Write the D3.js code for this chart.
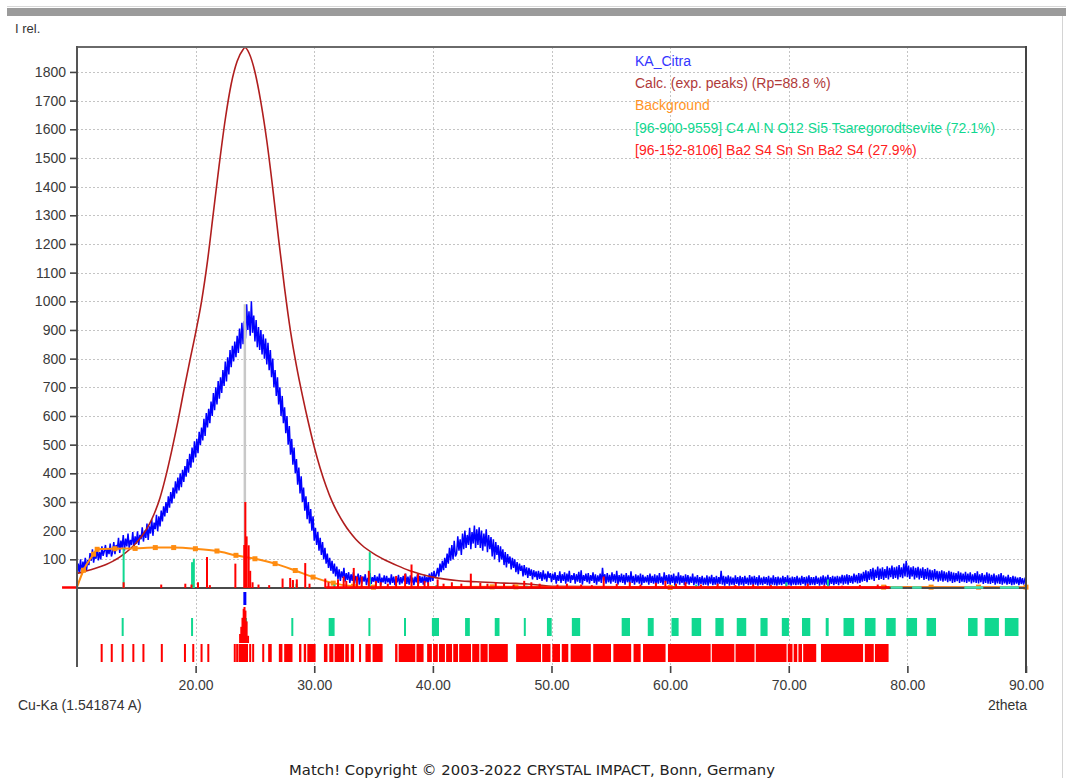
<!DOCTYPE html>
<meta charset="utf-8">
<style>
body { margin: 0; background: #fff; }
svg { display: block; font-family: "Liberation Sans", Arial, sans-serif; }
.grid line { stroke: #c4c4c4; stroke-width: 1; stroke-dasharray: 2,2; }
.axis text { font-size: 14px; fill: #3a3a3a; }
.axis line { stroke: #444; stroke-width: 1.6; }
</style>
<body>
<script src="https://d3js.org/d3.v7.min.js"></script>
<script>

var obsStart = 10, obsStep = 0.1;
var obsCounts = [
  40, 85, 55, 100, 48, 92, 70, 105, 62, 98,
  80, 122, 95, 135, 88, 118, 102, 140, 96, 125,
  100, 145, 112, 128, 150, 108, 138, 118, 155, 110,
  125, 160, 118, 150, 135, 175, 122, 165, 140, 185,
  130, 172, 145, 190, 138, 168, 150, 195, 142, 180,
  155, 198, 150, 185, 170, 212, 162, 200, 175, 225,
  168, 215, 190, 240, 182, 228, 205, 255, 198, 250,
  215, 270, 232, 285, 250, 300, 262, 320, 280, 335,
  295, 350, 312, 372, 330, 385, 340, 400, 352, 412,
  370, 425, 388, 450, 402, 468, 420, 490, 438, 512,
  455, 520, 470, 545, 498, 560, 515, 590, 530, 610,
  560, 625, 575, 650, 600, 680, 620, 700, 640, 722,
  660, 735, 680, 760, 705, 790, 720, 805, 745, 830,
  770, 845, 790, 860, 805, 880, 820, 905, 835, 925,
  850, 930, 870, 990, 900, 965, 880, 1000, 890, 950,
  860, 935, 840, 910, 830, 900, 815, 885, 800, 870,
  780, 855, 760, 830, 735, 800, 700, 760, 670, 735,
  640, 700, 600, 670, 575, 630, 540, 600, 500, 565,
  465, 520, 430, 490, 400, 450, 360, 420, 330, 390,
  300, 350, 270, 320, 240, 300, 225, 275, 200, 250,
  165, 210, 150, 195, 130, 175, 115, 160, 100, 140,
  85, 120, 70, 105, 60, 95, 50, 85, 40, 75,
  30, 65, 25, 58, 35, 70, 22, 52, 28, 55,
  18, 48, 25, 55, 15, 42, 22, 50, 12, 45,
  15, 40, 22, 48, 10, 35, 20, 52, 14, 38,
  22, 45, 12, 40, 18, 50, 10, 36, 20, 44,
  14, 42, 20, 35, 12, 48, 18, 40, 10, 38,
  20, 46, 12, 38, 16, 42, 22, 50, 14, 40,
  12, 44, 18, 36, 10, 40, 20, 48, 15, 42,
  18, 40, 12, 46, 20, 38, 15, 50, 22, 55,
  25, 60, 35, 48, 70, 40, 85, 55, 95, 62,
  105, 70, 120, 85, 140, 95, 150, 100, 165, 110,
  120, 180, 130, 170, 115, 190, 135, 200, 140, 185,
  150, 210, 135, 195, 155, 218, 140, 205, 150, 212,
  140, 200, 130, 190, 145, 205, 125, 185, 135, 178,
  110, 170, 100, 160, 115, 150, 90, 145, 100, 135,
  80, 125, 72, 118, 85, 110, 65, 105, 70, 100,
  55, 90, 48, 85, 60, 78, 40, 80, 45, 72,
  35, 70, 42, 65, 30, 62, 38, 58, 28, 60,
  32, 55, 25, 62, 30, 50, 22, 58, 35, 52,
  20, 50, 28, 55, 15, 45, 25, 58, 18, 48,
  25, 55, 15, 50, 22, 60, 18, 45, 28, 52,
  15, 48, 22, 56, 18, 62, 12, 45, 25, 50,
  20, 52, 15, 45, 25, 55, 18, 48, 12, 44,
  22, 50, 18, 70, 25, 48, 15, 52, 20, 46,
  15, 55, 22, 48, 18, 60, 12, 45, 20, 50,
  18, 46, 12, 52, 20, 44, 15, 58, 18, 42,
  12, 48, 20, 44, 15, 50, 10, 46, 18, 40,
  20, 45, 12, 50, 18, 42, 15, 48, 10, 44,
  15, 52, 18, 40, 12, 55, 20, 45, 14, 48,
  12, 46, 18, 50, 10, 42, 16, 55, 12, 44,
  18, 42, 10, 48, 15, 45, 12, 40, 18, 50,
  10, 40, 15, 45, 8, 38, 14, 42, 10, 36,
  12, 44, 8, 40, 15, 46, 10, 38, 12, 42,
  10, 38, 14, 60, 12, 42, 8, 40, 14, 44,
  8, 40, 12, 36, 10, 44, 14, 38, 8, 42,
  12, 38, 8, 42, 14, 36, 10, 45, 12, 40,
  10, 42, 12, 38, 8, 44, 12, 36, 10, 40,
  14, 38, 10, 42, 8, 36, 12, 44, 10, 38,
  8, 40, 12, 36, 10, 42, 14, 38, 8, 44,
  12, 36, 8, 40, 12, 38, 10, 42, 12, 36,
  10, 42, 14, 38, 8, 40, 12, 44, 10, 38,
  12, 38, 10, 42, 14, 36, 8, 40, 12, 44,
  10, 40, 12, 46, 8, 38, 14, 42, 10, 40,
  14, 42, 10, 40, 16, 46, 12, 44, 15, 48,
  12, 45, 18, 42, 15, 50, 20, 46, 16, 52,
  18, 50, 22, 56, 25, 62, 20, 58, 28, 66,
  30, 70, 25, 64, 35, 75, 28, 68, 32, 72,
  28, 66, 35, 76, 30, 70, 38, 78, 32, 72,
  35, 75, 30, 80, 38, 72, 34, 85, 40, 95,
  38, 78, 32, 72, 40, 76, 30, 70, 36, 74,
  30, 68, 35, 72, 28, 66, 32, 70, 26, 64,
  28, 62, 24, 66, 30, 60, 22, 58, 26, 62,
  22, 58, 26, 55, 20, 60, 24, 56, 18, 54,
  20, 52, 24, 58, 18, 54, 22, 50, 20, 56,
  18, 50, 22, 55, 16, 48, 20, 52, 18, 58,
  16, 48, 20, 52, 14, 46, 18, 55, 15, 50,
  14, 46, 18, 50, 12, 44, 16, 48, 14, 52,
  12, 44, 16, 40, 12, 46, 14, 38, 10, 42,
  12, 40, 15, 36, 10, 38, 14, 34, 12, 30,
  20
];

// calculated profile [2theta, I]
var calcPts = [[10,51],[10.5,56],[11,62],[11.5,68],[12,75],[12.5,83],[13,93],[13.5,105],[14,120],[14.5,137],
  [15,158],[15.5,183],[16,215],[16.5,258],[17,315],[17.5,392],[18,482],[18.5,580],[19,688],[19.5,790],
  [20,890],[20.5,1000],[21,1140],[21.5,1310],[22,1480],[22.5,1635],[23,1758],[23.5,1837],[24,1878],[24.15,1885],
  [24.5,1866],[25,1800],[25.5,1695],[26,1560],[26.5,1395],[27,1215],[27.5,1045],[28,895],[28.5,775],[29,672],
  [29.5,578],[30,492],[30.5,418],[31,355],[31.5,302],[32,260],[32.5,225],[33,195],[33.5,170],[34,150],
  [35,120],[36,97],[37,78],[38,61],[39,48],[40,38],[41,31],[42,26],[43,23],[44,21],[45,19],[46,17],
  [47,16],[48,14],[49,10],[50,6],[60,4],[70,3],[80,3],[90,2]];

// background control points
var bgPts = [[10,3],[10.55,62],[11.4,118],[11.7,135],[13.2,137],[14.9,138],[16.6,141],[18.15,141],[19.98,137],
  [21.8,129],[23.4,114],[25,102],[26.7,85],[28.4,61],[29.9,38],[31.6,17],[33.3,6],[35,3],[45,4],[47,4],
  [60,2],[78,3],[82,3],[86,3],[90,3]];

// phase profile peaks in the pattern [2theta, I]
var redSticks = [[13.93,20],[17.1,12],[19.13,15],[19.65,12],[20.2,20],[20.96,108],[21.2,10],[23.35,85],
  [24.1,150],[24.19,300],[24.3,180],[24.47,149],[24.6,60],[24.8,20],[25.3,12],[26.2,10],[27.33,33],
  [27.97,35],[28.2,28],[28.53,30],[29.24,87],[29.6,15],[30.93,33],[31.2,20],[32,30],[32.48,40],[32.7,25],
  [33.33,70],[33.6,40],[34,40],[34.6,60],[35.2,25],[35.6,20],[36.2,15],[36.9,42],[37.66,50],[38.2,82],
  [38.75,50],[39.3,25],[39.6,20],[40.4,30],[40.9,15],[41.6,20],[42.4,15],[43.2,50],[44,18],[44.6,15],
  [45.3,20],[46,15],[46.8,12],[47.7,25],[48.3,20],[49,15],[50.5,12],[51.3,15],[52.5,12],[53.4,10],
  [54.4,40],[55.5,15],[56.6,20],[57.5,12],[58.8,18],[59.6,25],[60.5,15],[61.3,20],[62.6,12],[64,15],
  [65.5,10],[67,12],[68.5,10],[70,8],[71.6,15],[73,10],[74.5,8],[76,10],[77.5,12],[78.2,8]];
var greenSticks = [[13.93,137],[19.7,90],[19.85,102],[28.2,25],[28.5,15],[31.7,12],[34.68,125],
  [40.3,10],[47.9,8],[60.4,10],[62.2,12],[69.8,20],[73.3,30]];

// profile baselines running along zero
var redBaseSpans = [[8.74,10],[31,78.5]];
var greenBaseSpans = [[78.6,79.6],[80.4,81.2],[84.8,86.4],[87.8,89.4]];

// reflection markers [from, to] in 2theta
var greenMarks = [[13.85,13.98],[19.7,19.85],[24.25,24.4],[28.15,28.3],[31.3,31.8],[34.65,34.75],
  [37.65,37.8],[40,40.6],[42.8,43.2],[45.3,45.7],[47.75,47.9],[49.7,50.1],[51.8,52.5],[56,56.7],
  [58.2,58.7],[60.2,60.8],[61.9,62.7],[63.9,64.6],[65.7,66.5],[67.7,68.3],[69.5,70.1],[71.2,71.9],
  [73.2,73.45],[74.7,75.6],[76.5,77.4],[78.3,79.1],[80,80.9],[81.7,82.5],[85.2,86],[86.6,87.8],[88.3,89.45]];
var redMarks = [[12.08,12.08],[12.93,12.93],[13.85,13.98],[14.75,14.75],[15.6,15.6],[17.15,17.28],
  [19.1,19.1],[19.8,19.8],[20.5,20.5],[21.07,21.07],[23.3,23.4],[23.5,23.55],[23.7,24.5],[24.6,24.7],
  [24.85,24.9],[25.7,25.7],[26.2,26.5],[27.1,27.4],[27.55,28.25],[28.8,29],[29.2,29.4],[29.5,30.2],
  [30.9,31.2],[31.35,31.7],[31.8,32.6],[32.7,33],[33.16,33.44],[33.86,34],[34.4,34.85],[35,35.85],
  [36.9,37.1],[37.2,38.6],[38.7,39.3],[39.6,40],[40.1,40.5],[40.6,41.1],[41.2,41.7],[41.8,42.2],
  [42.3,43.3],[43.4,44],[44.1,44.7],[44.8,46.4],[47.1,49.2],[49.3,50],[50.15,50.8],[50.95,51.5],
  [51.7,53.4],[53.6,55.1],[55.3,56.8],[57,57.6],[57.8,59.7],[59.9,63.5],[63.6,65.5],[65.6,67.2],
  [67.3,69.9],[70,70.4],[70.5,70.8],[70.9,71.2],[71.3,72.4],[72.8,76.35],[76.5,77.25],[77.35,78.5]];

// selected peak: observed max and relative stick intensities
var selPeak = [24.15, 990];
var peakMarks = [[23.75,0.25],[23.85,0.45],[23.95,0.7],[24.05,0.95],[24.12,1],[24.2,0.9],[24.3,0.6],[24.42,0.2]];

var yTicks = [100,200,300,400,500,600,700,800,900,1000,1100,1200,1300,1400,1500,1600,1700,1800];
var xTicks = [20,30,40,50,60,70,80,90];
var legendLabels = ["KA_Citra", "Calc. (exp. peaks) (Rp=88.8 %)", "Background",
  "[96-900-9559] C4 Al N O12 Si5 Tsaregorodtsevite (72.1%)", "[96-152-8106] Ba2 S4 Sn Sn Ba2 S4 (27.9%)"];
var legendColors = ["#3434ff", "#b03a3a", "#ff9426", "#10d890", "#ff2020"];

var width = 1066, height = 778;
var svg = d3.select("body").append("svg")
    .attr("width", width)
    .attr("height", height);

// window strip
svg.append("rect").attr("x", 7).attr("y", 8).attr("width", width - 7).attr("height", 8).attr("fill", "#9b9b9b");
svg.append("line").attr("x1", 7).attr("x2", width).attr("y1", 6.5).attr("y2", 6.5).attr("stroke", "#d8d8d8");
svg.append("line").attr("x1", 1062.5).attr("x2", 1062.5).attr("y1", 16).attr("y2", height).attr("stroke", "#d4d4d4");

var x = d3.scaleLinear().domain([10, 90]).range([77, 1026]);
var y = d3.scaleLinear().domain([0, 1887]).range([588, 47]);
var y0 = y(0);

// grid
var grid = svg.append("g").attr("class", "grid");
grid.selectAll(".h").data(yTicks).enter().append("line")
    .attr("x1", x(10)).attr("x2", x(90))
    .attr("y1", function(d) { return Math.round(y(d)) + 0.5; })
    .attr("y2", function(d) { return Math.round(y(d)) + 0.5; });
grid.selectAll(".v").data(xTicks.slice(0, -1)).enter().append("line")
    .attr("x1", function(d) { return Math.round(x(d)) + 0.5; })
    .attr("x2", function(d) { return Math.round(x(d)) + 0.5; })
    .attr("y1", 47).attr("y2", 666);

// observed pattern
var obsLine = d3.line()
    .x(function(d, i) { return x(obsStart + i * obsStep); })
    .y(function(d) { return y(d); });
svg.append("path").datum(obsCounts)
    .attr("d", obsLine)
    .attr("fill", "none").attr("stroke", "#0000ff").attr("stroke-width", 1.5);

// calculated profile
var smooth = d3.line().curve(d3.curveMonotoneX)
    .x(function(d) { return x(d[0]); })
    .y(function(d) { return y(d[1]); });
svg.append("path").datum(calcPts)
    .attr("d", smooth)
    .attr("fill", "none").attr("stroke", "#b01e1e").attr("stroke-width", 1.6);

// background
svg.append("path").datum(bgPts)
    .attr("d", smooth)
    .attr("fill", "none").attr("stroke", "#ff8c10").attr("stroke-width", 2);
svg.selectAll(".bgpt").data(bgPts.slice(1)).enter().append("rect")
    .attr("x", function(d) { return x(d[0]) - 2.5; })
    .attr("y", function(d) { return y(d[1]) - 2.5; })
    .attr("width", 5).attr("height", 5)
    .attr("fill", "#ff8c10");

// selected peak line
svg.append("line")
    .attr("x1", x(selPeak[0])).attr("x2", x(selPeak[0]))
    .attr("y1", y(selPeak[1])).attr("y2", y0)
    .attr("stroke", "#c8c8c8").attr("stroke-width", 2.5);

// baseline
svg.append("line").attr("x1", x(10)).attr("x2", x(90)).attr("y1", y0).attr("y2", y0)
    .attr("stroke", "#4a4a4a").attr("stroke-width", 2);

// phase profiles
svg.selectAll(".gstick").data(greenSticks).enter().append("line")
    .attr("x1", function(d) { return x(d[0]); })
    .attr("x2", function(d) { return x(d[0]); })
    .attr("y1", y0).attr("y2", function(d) { return y(d[1]); })
    .attr("stroke", "#10d890").attr("stroke-width", 2);
svg.selectAll(".rstick").data(redSticks).enter().append("line")
    .attr("x1", function(d) { return x(d[0]); })
    .attr("x2", function(d) { return x(d[0]); })
    .attr("y1", y0).attr("y2", function(d) { return y(d[1]); })
    .attr("stroke", "#ff0000").attr("stroke-width", 2);
svg.selectAll(".rbase").data(redBaseSpans).enter().append("line")
    .attr("x1", function(d) { return x(d[0]); })
    .attr("x2", function(d) { return x(d[1]); })
    .attr("y1", y0 - 0.5).attr("y2", y0 - 0.5)
    .attr("stroke", "#ff0000").attr("stroke-width", 2.5);
svg.selectAll(".gbase").data(greenBaseSpans).enter().append("line")
    .attr("x1", function(d) { return x(d[0]); })
    .attr("x2", function(d) { return x(d[1]); })
    .attr("y1", y0 - 0.5).attr("y2", y0 - 0.5)
    .attr("stroke", "#3fe0b0").attr("stroke-width", 2.5);

// reflection markers
function markWidth(d) { return Math.max(2, x(d[1]) - x(d[0])); }
svg.selectAll(".gmark").data(greenMarks).enter().append("rect")
    .attr("x", function(d) { return x(d[0]) - 1; })
    .attr("y", 618).attr("height", 18)
    .attr("width", markWidth)
    .attr("fill", "#10d890");
svg.selectAll(".rmark").data(redMarks).enter().append("rect")
    .attr("x", function(d) { return x(d[0]) - 1; })
    .attr("y", 644).attr("height", 18)
    .attr("width", markWidth)
    .attr("fill", "#ff0000");
var hMark = d3.scaleLinear().domain([0, 1]).range([643, 607]);
svg.selectAll(".pmark").data(peakMarks).enter().append("rect")
    .attr("x", function(d) { return x(d[0]) - 1; })
    .attr("y", function(d) { return hMark(d[1]); })
    .attr("width", 2)
    .attr("height", function(d) { return 643 - hMark(d[1]); })
    .attr("fill", "#ff0000");
svg.append("rect")
    .attr("x", x(selPeak[0]) - 1.5).attr("y", 592)
    .attr("width", 3).attr("height", 13)
    .attr("fill", "#0000ff");

// frame
svg.append("line").attr("x1", 77).attr("x2", 1026).attr("y1", 47).attr("y2", 47)
    .attr("stroke", "#6a6a6a").attr("stroke-width", 2);
svg.append("line").attr("x1", 77).attr("x2", 77).attr("y1", 46).attr("y2", 667)
    .attr("stroke", "#555").attr("stroke-width", 2);
svg.append("line").attr("x1", 1026).attr("x2", 1026).attr("y1", 46).attr("y2", 673)
    .attr("stroke", "#444").attr("stroke-width", 2);

// axes
var yAxis = svg.append("g").attr("class", "axis")
    .attr("transform", "translate(77,0)")
    .call(d3.axisLeft(y).tickValues(yTicks).tickSize(7).tickPadding(4).tickFormat(d3.format("d")));
yAxis.select(".domain").remove();

var xAxis = svg.append("g").attr("class", "axis")
    .attr("transform", "translate(0,666)")
    .call(d3.axisBottom(x).tickValues(xTicks).tickSize(7).tickPadding(7).tickFormat(d3.format(".2f")));
xAxis.select(".domain").remove();

// labels
svg.append("text").attr("x", 15).attr("y", 33).attr("font-size", 13).attr("fill", "#333").text("I rel.");
svg.append("text").attr("x", 18).attr("y", 710).attr("font-size", 14).attr("fill", "#333").text("Cu-Ka (1.541874 A)");
svg.append("text").attr("x", 1027).attr("y", 710).attr("font-size", 14).attr("fill", "#333")
    .attr("text-anchor", "end").text("2theta");

// legend
svg.selectAll(".leg").data(legendLabels).enter().append("text")
    .attr("x", 635)
    .attr("y", function(d, i) { return 66 + i * 22.2; })
    .attr("font-size", 14)
    .attr("fill", function(d, i) { return legendColors[i]; })
    .text(function(d) { return d; });

svg.append("text")
    .attr("x", 532).attr("y", 775)
    .attr("text-anchor", "middle")
    .attr("font-family", "DejaVu Sans")
    .attr("font-size", 14.8).attr("fill", "#222")
    .text("Match! Copyright \u00a9 2003-2022 CRYSTAL IMPACT, Bonn, Germany");

</script>
